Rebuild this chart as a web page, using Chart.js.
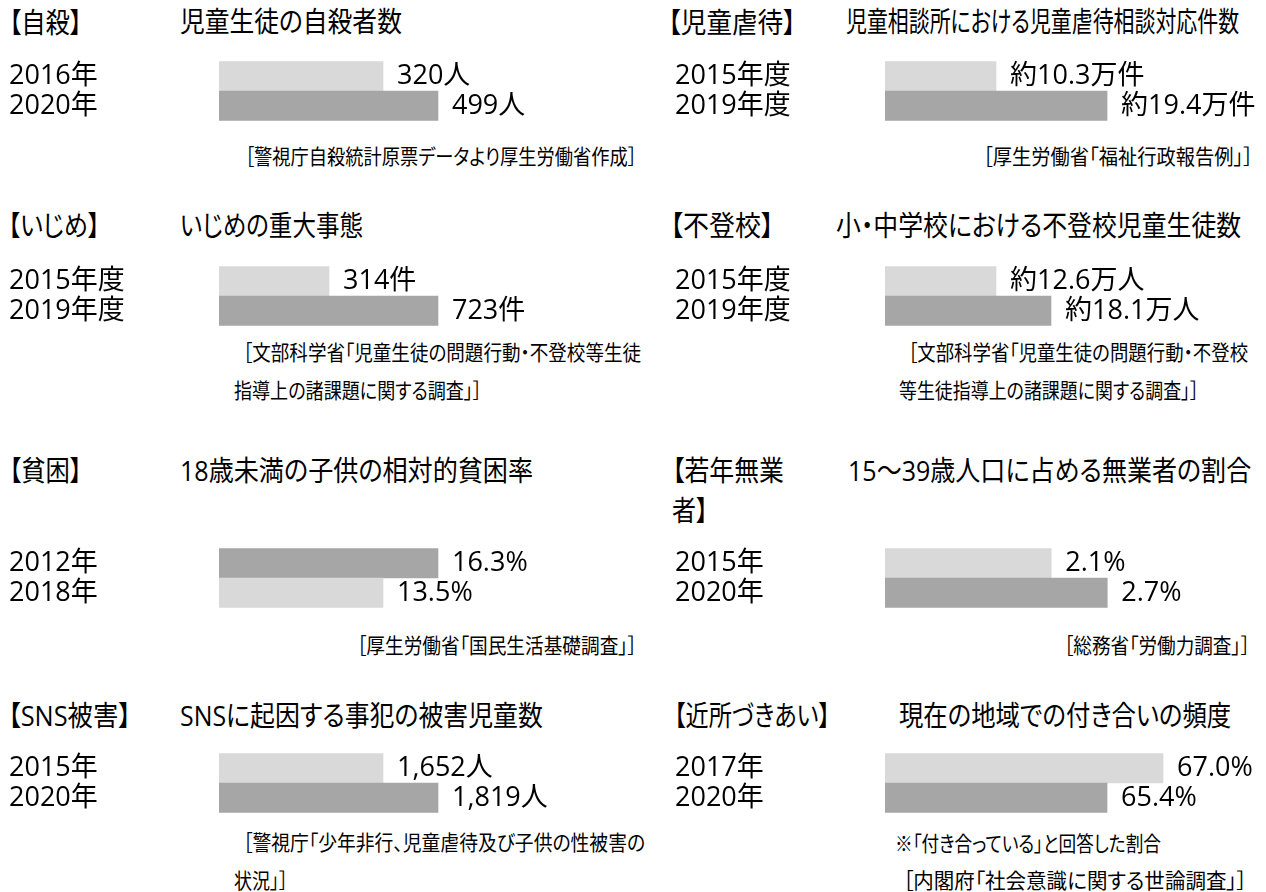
<!DOCTYPE html>
<html lang="ja">
<head>
<meta charset="utf-8">
<title>子供・若者をめぐる状況</title>
<script src="https://cdn.jsdelivr.net/npm/chart.js@4.4.1/dist/chart.umd.min.js"></script>
<style>
  html, body { margin: 0; padding: 0; background: #fff; }
  #page { position: relative; width: 1266px; height: 892px; overflow: hidden; }
  #page canvas { position: absolute; }
  .txt {
    position: absolute;
    white-space: nowrap;
    color: #000;
    font-family: "Open Sans", "Noto Sans CJK JP", sans-serif;
    font-feature-settings: "palt";
    line-height: 1;
    transform-origin: 0 50%;
  }
</style>
</head>
<body>
<div id="page"></div>
<script>
// ---- data ----
const categories = ['【自殺】', '【児童虐待】', '【いじめ】', '【不登校】',
  '【貧困】', '【若年無業\n者】', '【SNS被害】', '【近所づきあい】'];

const titles = [
  '児童生徒の自殺者数',
  '児童相談所における児童虐待相談対応件数',
  'いじめの重大事態',
  '小・中学校における不登校児童生徒数',
  '18歳未満の子供の相対的貧困率',
  '15～39歳人口に占める無業者の割合',
  'SNSに起因する事犯の被害児童数',
  '現在の地域での付き合いの頻度'
];

const periods = [
  ['2016年', '2020年'],
  ['2015年度', '2019年度'],
  ['2015年度', '2019年度'],
  ['2015年度', '2019年度'],
  ['2012年', '2018年'],
  ['2015年', '2020年'],
  ['2015年', '2020年'],
  ['2017年', '2020年']
];

const values = [
  [320, 499],
  [10.3, 19.4],
  [314, 723],
  [12.6, 18.1],
  [16.3, 13.5],
  [2.1, 2.7],
  [1652, 1819],
  [67.0, 65.4]
];

const prefixes = ['', '約', '', '約', '', '', '', ''];
const suffixes = ['人', '万件', '件', '万人', '%', '%', '人', '%'];
const decimals = [0, 1, 0, 1, 1, 1, 0, 1];

const sources = [
  '［警視庁自殺統計原票データより厚生労働省作成］',
  '［厚生労働省「福祉行政報告例」］',
  '［文部科学省「児童生徒の問題行動・不登校等生徒\n指導上の諸課題に関する調査」］',
  '［文部科学省「児童生徒の問題行動・不登校\n等生徒指導上の諸課題に関する調査」］',
  '［厚生労働省「国民生活基礎調査」］',
  '［総務省「労働力調査」］',
  '［警視庁「少年非行、児童虐待及び子供の性被害の\n状況」］',
  '※「付き合っている」と回答した割合\n［内閣府「社会意識に関する世論調査」］'
];

// ---- layout / style ----
const LIGHT = '#d9d9d9';
const DARK = '#a6a6a6';
const FONT = '"Open Sans", "Noto Sans CJK JP", sans-serif';
const LABEL_SIZE = 27;
const HEAD_SIZE = 28;
const NOTE_SIZE = 21;

const columns = [
  {labelX: 9, barLeft: 219, right: 633},
  {labelX: 675, barLeft: 885, right: 1266}
];

// axis ranges chosen so the bars keep the lengths of the original infographic
const panels = [
  {col: 0, barTop: 45, xMin: -214, xMax: 1134, shades: [LIGHT, DARK],
   cat: [[9, 22, 73]], title: [180, 21, 222], notes: [[245, 156, 392]]},
  {col: 1, barTop: 45, xMin: 1.2, xMax: 32.43, shades: [LIGHT, DARK],
   cat: [[668, 22, 128]], title: [846, 21, 393], notes: [[983, 156, 270]]},
  {col: 0, barTop: 250, xMin: -99, xMax: 1455, shades: [LIGHT, DARK],
   cat: [[8, 225, 92]], title: [180, 225, 183], notes: [[243, 352, 398], [234, 390, 248]]},
  {col: 1, barTop: 250, xMin: 1.5, xMax: 39.6, shades: [LIGHT, DARK],
   cat: [[670, 225, 104]], title: [836, 225, 405], notes: [[908, 352, 340], [899, 390, 300]]},
  {col: 0, barTop: 532, xMin: 5.15, xMax: 26.23, shades: [DARK, LIGHT],
   cat: [[9, 470, 73]], title: [180, 470, 353], notes: [[357, 645, 280]]},
  {col: 1, barTop: 532, xMin: 0.32, xMax: 4.40, shades: [LIGHT, DARK],
   cat: [[672, 470, 112], [672, 510, 36]], title: [848, 470, 403], notes: [[1064, 645, 186]]},
  {col: 0, barTop: 737, xMin: 1154, xMax: 2411, shades: [LIGHT, DARK],
   cat: [[8, 715, 123]], title: [180, 715, 363], notes: [[243, 842, 402], [234, 880, 54]]},
  {col: 1, barTop: 737, xMin: 59.06, xMax: 69.94, shades: [LIGHT, DARK],
   cat: [[674, 715, 156]], title: [899, 715, 332], notes: [[895, 843, 266], [903, 880, 344]]}
];

const page = document.getElementById('page');
const fitted = [];

function addText(str, pos, size) {
  const el = document.createElement('div');
  el.className = 'txt';
  el.textContent = str;
  el.style.fontSize = size + 'px';
  el.style.left = pos[0] + 'px';
  el.style.top = (pos[1] - size / 2) + 'px';
  page.appendChild(el);
  fitted.push({el, w: pos[2]});
}

function formatValue(i, v) {
  const num = decimals[i] ? v.toFixed(decimals[i]) : v.toLocaleString('en-US');
  return prefixes[i] + num + suffixes[i];
}

Chart.defaults.font.family = FONT;
Chart.defaults.color = '#000';

panels.forEach((p, i) => {
  const col = columns[p.col];

  categories[i].split('\n').forEach((line, k) => addText(line, p.cat[k], HEAD_SIZE));
  addText(titles[i], p.title, HEAD_SIZE);
  sources[i].split('\n').forEach((line, k) => addText(line, p.notes[k], NOTE_SIZE));

  const canvas = document.createElement('canvas');
  canvas.width = col.right - col.labelX;
  canvas.height = 92;
  canvas.style.left = col.labelX + 'px';
  canvas.style.top = p.barTop + 'px';
  page.appendChild(canvas);

  const valueLabels = {
    id: 'valueLabels' + i,
    afterDatasetsDraw(chart) {
      const ctx = chart.ctx;
      const meta = chart.getDatasetMeta(0);
      ctx.save();
      ctx.font = LABEL_SIZE + 'px ' + FONT;
      ctx.fillStyle = '#000';
      ctx.textAlign = 'left';
      ctx.textBaseline = 'middle';
      meta.data.forEach((bar, j) => {
        ctx.fillText(formatValue(i, values[i][j]), bar.x + 14, bar.y);
      });
      ctx.restore();
    }
  };

  new Chart(canvas, {
    type: 'bar',
    data: {
      labels: periods[i],
      datasets: [{
        data: values[i],
        backgroundColor: p.shades,
        base: p.xMin,
        borderWidth: 0,
        barPercentage: 1,
        categoryPercentage: 1
      }]
    },
    options: {
      indexAxis: 'y',
      responsive: false,
      animation: false,
      layout: {padding: 0},
      plugins: {legend: {display: false}, tooltip: {enabled: false}},
      scales: {
        x: {display: false, min: p.xMin, max: p.xMax},
        y: {
          grid: {display: false},
          border: {display: false},
          ticks: {
            crossAlign: 'far',
            autoSkip: false,
            padding: 0,
            color: '#000',
            font: {family: FONT, size: LABEL_SIZE}
          },
          afterFit: (axis) => { axis.width = col.barLeft - col.labelX; }
        }
      }
    },
    plugins: [valueLabels]
  });
});

// squeeze or stretch the heading and source texts to the widths of the original
document.fonts.ready.then(() => {
  fitted.forEach(({el, w}) => {
    const nat = el.getBoundingClientRect().width;
    if (nat > 0) el.style.transform = 'scaleX(' + (w / nat).toFixed(3) + ')';
  });
});
</script>
</body>
</html>
